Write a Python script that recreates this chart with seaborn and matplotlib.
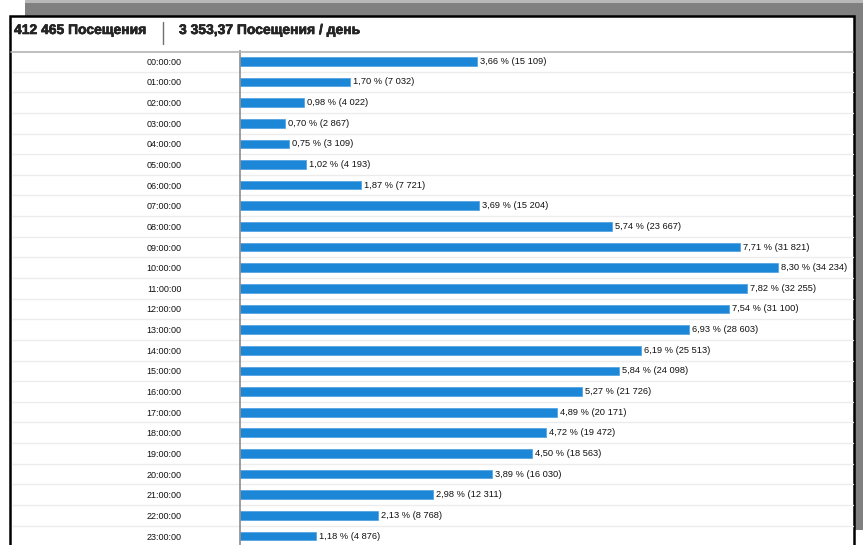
import matplotlib
matplotlib.use("Agg")
import matplotlib.pyplot as plt
from matplotlib.patches import Rectangle
from matplotlib.lines import Line2D
import matplotlib.patheffects as pe
import seaborn as sns
import pandas as pd

hours = ["00:00:00", "01:00:00", "02:00:00", "03:00:00", "04:00:00", "05:00:00",
         "06:00:00", "07:00:00", "08:00:00", "09:00:00", "10:00:00", "11:00:00",
         "12:00:00", "13:00:00", "14:00:00", "15:00:00", "16:00:00", "17:00:00",
         "18:00:00", "19:00:00", "20:00:00", "21:00:00", "22:00:00", "23:00:00"]
percent = [3.66, 1.70, 0.98, 0.70, 0.75, 1.02, 1.87, 3.69, 5.74, 7.71, 8.30, 7.82,
           7.54, 6.93, 6.19, 5.84, 5.27, 4.89, 4.72, 4.50, 3.89, 2.98, 2.13, 1.18]
visits = ["15 109", "7 032", "4 022", "2 867", "3 109", "4 193", "7 721", "15 204",
          "23 667", "31 821", "34 234", "32 255", "31 100", "28 603", "25 513", "24 098",
          "21 726", "20 171", "19 472", "18 563", "16 030", "12 311", "8 768", "4 876"]
total_text = "412 465 Посещения"
perday_text = "3 353,37 Посещения / день"

sns.set_style("white")
plt.rcParams["font.family"] = ["Liberation Sans", "DejaVu Sans"]

W, H = 863, 545
fig = plt.figure(figsize=(W / 100, H / 100), dpi=100)
fig.patch.set_facecolor("white")

def fx(px):
    return px / W

def fy(py):
    return 1 - py / H

# drop shadow and panel
fig.patches.append(Rectangle((fx(25), fy(530)), fx(838), 530 / H, transform=fig.transFigure,
                             facecolor="#808080", edgecolor="none", zorder=-3))
fig.patches.append(Rectangle((fx(25), fy(3)), fx(838), 3 / H, transform=fig.transFigure,
                             facecolor="#b8b8b8", edgecolor="none", zorder=-2.5))
fig.patches.append(Rectangle((fx(10), fy(560)), fx(844), 544 / H, transform=fig.transFigure,
                             facecolor="white", edgecolor="black", linewidth=1.8, zorder=-2))

# header
stroke = [pe.withStroke(linewidth=0.4, foreground="black")]
fig.text(fx(14), fy(30), total_text, fontsize=10, fontweight="bold", va="center", ha="left",
         path_effects=stroke)
fig.text(fx(179), fy(30), perday_text, fontsize=10, fontweight="bold", va="center", ha="left",
         path_effects=stroke)
fig.lines.append(Line2D([fx(163), fx(163)], [fy(22), fy(44)], transform=fig.transFigure,
                        color="#707070", linewidth=1))
fig.lines.append(Line2D([fx(11), fx(853)], [fy(51.5), fy(51.5)], transform=fig.transFigure,
                        color="#b4b4b4", linewidth=1.2))

# axes
px_per_unit = 538 / 8.30
ax_left, ax_right = 240, 853
ax_top = 51
ax = fig.add_axes([fx(ax_left), 0, fx(ax_right - ax_left), (H - ax_top) / H])
ax.set_facecolor("none")

df = pd.DataFrame({"hour": hours, "pct": percent})
sns.barplot(data=df, x="pct", y="hour", orient="h", color="#1c87d6", width=0.42,
            saturation=1, ax=ax, edgecolor="#4a9fe0", linewidth=0.5)

row_px = (536 - 61) / 23
bottom_row = 23 + (H - 536) / row_px
ax.set_ylim(bottom_row, -0.5)
ax.set_xlim(0, (ax_right - ax_left) / px_per_unit)

for i in range(len(hours) - 1):
    ax.axhline(i + 0.5, xmin=(12 - ax_left) / (ax_right - ax_left), xmax=1,
               color="#ececec", linewidth=1, clip_on=False, zorder=0)

for i, (p, v) in enumerate(zip(percent, visits)):
    ax.text(p + 3 / px_per_unit, i, f"{p:.2f}".replace(".", ",") + f" % ({v})",
            fontsize=6.7, va="center", ha="left", color="#111111")

ax.set_xlabel("")
ax.set_ylabel("")
ax.set_xticks([])
ax.tick_params(axis="y", length=0, pad=42, labelsize=6.5, labelcolor="#111111")
for s in ["top", "right", "bottom"]:
    ax.spines[s].set_visible(False)
ax.spines["left"].set_color("#8c8c8c")
ax.spines["left"].set_linewidth(1.2)

fig.savefig("out.png", dpi=100)
